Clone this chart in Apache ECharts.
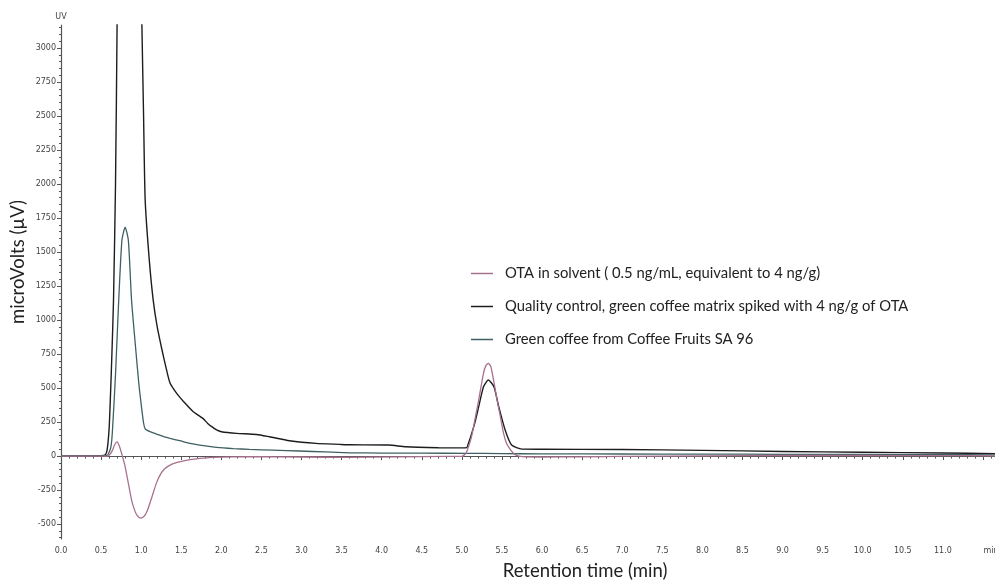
<!DOCTYPE html>
<html>
<head>
<meta charset="utf-8">
<script src="https://cdn.jsdelivr.net/npm/echarts@6/dist/echarts.min.js"></script>
<style>html,body{margin:0;padding:0;background:#fff}#c{width:995px;height:580px}</style>
</head>
<body>
<div id="c"></div>
<script>
// Data: [retention time (min), signal (µV)]
var seriesNames = [
  'OTA in solvent ( 0.5 ng/mL, equivalent to 4 ng/g)',
  'Quality control, green coffee matrix spiked with 4 ng/g of OTA',
  'Green coffee from Coffee Fruits SA 96'
];
var otaSolvent = [[0,0],[0.5,0],[0.57,-2],[0.6,5],[0.64,40],[0.67,85],[0.70,105],[0.73,70],[0.77,-10],[0.80,-78],[0.84,-200],[0.88,-323],[0.91,-385],[0.94,-428],[0.97,-450],[1.0,-456],[1.03,-447],[1.06,-422],[1.09,-380],[1.14,-290],[1.19,-199],[1.24,-135],[1.29,-95],[1.35,-70],[1.42,-52],[1.53,-36],[1.63,-25],[1.73,-17],[1.9,-10],[2.14,-6],[2.5,-5],[3.0,-7],[3.6,-10],[4.2,-6],[4.8,-3],[5.0,-2],[5.05,20],[5.09,80],[5.13,167],[5.17,290],[5.21,412],[5.27,610],[5.30,665],[5.33,682],[5.36,660],[5.38,608],[5.44,412],[5.48,290],[5.52,167],[5.56,90],[5.61,44],[5.66,12],[5.71,0],[5.8,-6],[6.0,-7],[6.5,-5],[7.0,-2],[8.0,2],[9.0,4],[10.0,4],[11.0,3],[11.65,2]];
var qualityControl = [[0,0],[0.3,1],[0.5,3],[0.55,8],[0.575,44],[0.6,200],[0.615,412],[0.635,750],[0.655,1147],[0.68,2000],[0.70,3200],[0.72,5000],[0.8,8000],[0.9,7000],[0.97,4500],[1.009,3170],[1.03,2500],[1.05,1882],[1.1,1450],[1.15,1147],[1.2,950],[1.26,780],[1.31,650],[1.36,537],[1.45,455],[1.53,400],[1.65,326],[1.77,277],[1.83,240],[1.88,216],[1.94,192],[2.0,179],[2.19,167],[2.44,159],[2.6,142],[2.85,113],[3.18,93],[3.47,86],[3.6,83],[4.09,81],[4.3,68],[4.71,61],[5.0,60],[5.06,62],[5.08,90],[5.11,142],[5.16,240],[5.21,363],[5.27,510],[5.33,559],[5.40,510],[5.46,363],[5.54,191],[5.62,81],[5.75,51],[6.0,50],[7.0,48],[8.0,42],[9.0,34],[10.0,28],[11.0,22],[11.65,18]];
var greenCoffee = [[0,0],[0.5,2],[0.58,8],[0.62,60],[0.64,169],[0.68,600],[0.72,1147],[0.76,1588],[0.80,1684],[0.84,1588],[0.88,1147],[0.93,800],[0.97,537],[1.0,380],[1.03,243],[1.05,200],[1.11,179],[1.2,160],[1.29,141],[1.36,130],[1.48,113],[1.61,93],[1.78,76],[1.94,64],[2.15,55],[2.35,49],[2.65,43],[2.97,37],[3.3,30],[3.6,24],[4.0,22],[4.5,21],[5.05,20],[5.5,18],[6.0,16],[7.0,15],[8.0,14],[9.0,13],[10.0,12],[11.0,10],[11.65,9]];
var yMajorTicks = [-500,-250,0,250,500,750,1000,1250,1500,1750,2000,2250,2500,2750,3000];
var xLabelTicks = [0,0.5,1,1.5,2,2.5,3,3.5,4,4.5,5,5.5,6,6.5,7,7.5,8,8.5,9,9.5,10,10.5,11,11.6];

var yMinorTicks = [];
for (var v = -600; v <= 3150; v += 50) yMinorTicks.push(v);

var colors = ['#a8708f', '#1d1d1d', '#3f6062'];
var axisColor = '#555';
var labelStyle = {color: '#444', fontSize: 8, fontFamily: 'DejaVu Sans'};

var chart = echarts.init(document.getElementById('c'));
chart.setOption({
  animation: false,
  backgroundColor: '#ffffff',
  grid: {left: 61, top: 25, width: 934, height: 514, outerBoundsMode: 'none', containLabel: false},
  legend: {
    orient: 'vertical', left: 471, top: 265, itemGap: 16, padding: 0,
    icon: 'rect', itemWidth: 22, itemHeight: 1.5,
    textStyle: {fontFamily: 'Lato', fontSize: 14.8, color: '#222', lineHeight: 17, padding: [0,0,0,7]},
    data: seriesNames
  },
  xAxis: {
    type: 'value', min: 0, max: 11.65, interval: 0.5,
    axisLine: {lineStyle: {color: axisColor, width: 1.2}},
    axisTick: {length: 4, lineStyle: {color: axisColor}},
    minorTick: {show: true, splitNumber: 5, length: 2.5, lineStyle: {color: axisColor}},
    axisLabel: Object.assign({margin: 8, customValues: xLabelTicks,
      formatter: function (v) { return v > 11.5 ? 'min' : v.toFixed(1); }}, labelStyle),
    splitLine: {show: false}
  },
  yAxis: [{
    type: 'value', min: -610, max: 3170,
    axisLine: {show: true, lineStyle: {color: axisColor, width: 1.2}},
    axisTick: {show: true, length: 4, customValues: yMajorTicks, lineStyle: {color: axisColor}},
    axisLabel: Object.assign({margin: 5, customValues: yMajorTicks,
      formatter: function (v) { return String(v); }}, labelStyle),
    splitLine: {show: false},
    name: 'UV', nameLocation: 'end', nameGap: 4,
    nameTextStyle: {color: '#444', fontSize: 8, fontFamily: 'DejaVu Sans', align: 'center'}
  }, {
    type: 'value', min: -610, max: 3170, position: 'left',
    axisLine: {show: false},
    axisTick: {show: true, length: 2, customValues: yMinorTicks, lineStyle: {color: axisColor}},
    axisLabel: {show: false},
    splitLine: {show: false}
  }],
  graphic: [
    {type: 'text', x: 585, y: 571, style: {text: 'Retention time (min)', fontFamily: 'Lato', fontSize: 18.5, fill: '#222', align: 'center', verticalAlign: 'middle'}},
    {type: 'text', x: 18, y: 262, rotation: Math.PI / 2, style: {text: 'microVolts (µV)', fontFamily: 'Lato', fontSize: 18.5, fill: '#222', align: 'center', verticalAlign: 'middle'}}
  ],
  series: [
    {name: seriesNames[1], type: 'line', data: qualityControl, showSymbol: false, smooth: 0.2, lineStyle: {color: colors[1], width: 1.4}, itemStyle: {color: colors[1]}, z: 2},
    {name: seriesNames[2], type: 'line', data: greenCoffee, showSymbol: false, smooth: 0.2, lineStyle: {color: colors[2], width: 1.3}, itemStyle: {color: colors[2]}, z: 3},
    {name: seriesNames[0], type: 'line', data: otaSolvent, showSymbol: false, smooth: 0.2, lineStyle: {color: colors[0], width: 1.3}, itemStyle: {color: colors[0]}, z: 4}
  ]
});
</script>
</body>
</html>
